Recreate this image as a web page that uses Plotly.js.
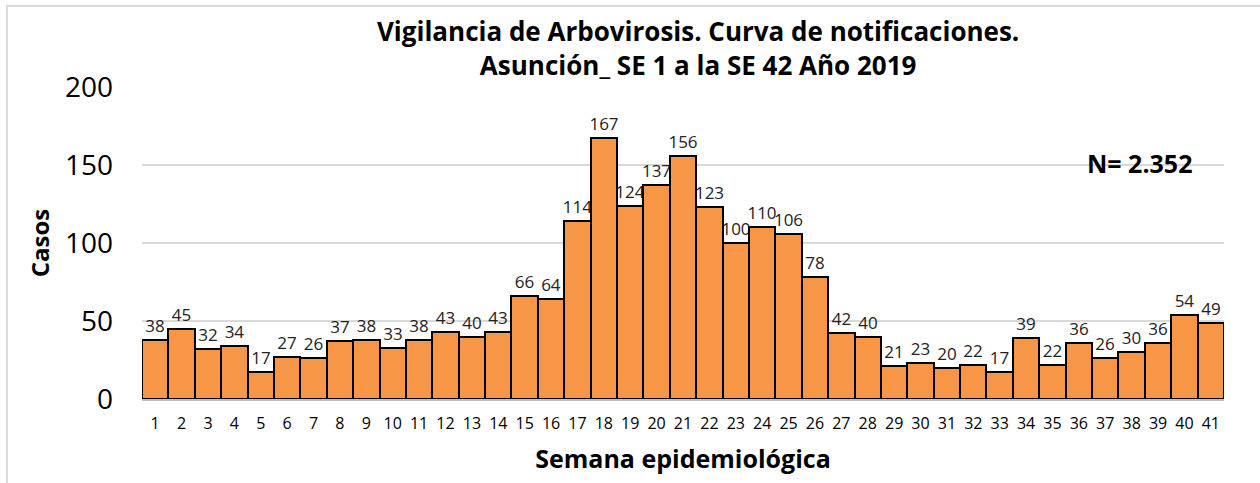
<!DOCTYPE html>
<html>
<head>
<meta charset="utf-8">
<script src="https://cdn.plot.ly/plotly-3.0.1.min.js"></script>
<style>
  body { margin: 0; background: #fff; }
  #plotArea { width: 1260px; height: 483px; }
</style>
</head>
<body>
<div id="plotArea"></div>
<script>
// semanas epidemiologicas y casos notificados
var semanas = ["1","2","3","4","5","6","7","8","9","10","11","12","13","14","15","16","17","18","19","20","21","22","23","24","25","26","27","28","29","30","31","32","33","34","35","36","37","38","39","40","41"];
var casos = [38,45,32,34,17,27,26,37,38,33,38,43,40,43,66,64,114,167,124,137,156,123,100,110,106,78,42,40,21,23,20,22,17,39,22,36,26,30,36,54,49];
var totalTexto = "N= 2.352";

var trace = {
    x: semanas,
    y: casos,
    type: "bar",
    text: casos.map(String),
    textposition: "outside",
    constraintext: "none",
    cliponaxis: false,
    textfont: {size: 17, color: "#222"},
    marker: {color: "#F79646", line: {color: "#000", width: 2}},
    hoverinfo: "x+y"
};

var fuente = "Open Sans, Noto Sans, sans-serif";

var layout = {
    width: 1260,
    height: 483,
    margin: {l: 142, r: 36, t: 87, b: 84},
    paper_bgcolor: "#fff",
    plot_bgcolor: "#fff",
    font: {family: fuente, color: "#000"},
    bargap: 0,
    showlegend: false,
    title: {
        text: "<b>Vigilancia de Arbovirosis. Curva de notificaciones.<br>Asunción_ SE 1 a la SE 42 Año 2019</b>",
        font: {size: 26, family: fuente, color: "#000"},
        x: 0.514, xref: "paper", xanchor: "center",
        y: 0.915, yref: "container", yanchor: "middle"
    },
    xaxis: {
        type: "category",
        range: [-0.5, 40.5],
        showgrid: false,
        showline: true,
        linecolor: "#bfbfbf",
        linewidth: 2,
        ticks: "",
        tickfont: {size: 16},
        ticklabelstandoff: 9,
        title: {text: "<b>Semana epidemiológica</b>", font: {size: 25}, standoff: 17}
    },
    yaxis: {
        range: [0, 200],
        tickvals: [0, 50, 100, 150, 200],
        showgrid: true,
        gridcolor: "#d9d9d9",
        gridwidth: 2,
        zeroline: false,
        showline: false,
        ticks: "",
        tickfont: {size: 28},
        ticklabelstandoff: 28,
        title: {text: "<b>Casos</b>", font: {size: 24}, standoff: 8}
    },
    annotations: [{
        text: "<b>" + totalTexto + "</b>",
        xref: "paper", yref: "paper",
        x: 0.922, y: 0.758,
        xanchor: "center", yanchor: "middle",
        showarrow: false,
        font: {size: 25, color: "#000"}
    }],
    shapes: [{
        type: "rect",
        xref: "paper", yref: "paper",
        x0: -0.1248, x1: 1.2, y0: -0.5, y1: 1.2596,
        line: {color: "#d9d9d9", width: 2},
        layer: "below"
    }]
};

Plotly.newPlot("plotArea", [trace], layout, {displayModeBar: false});
</script>
</body>
</html>
